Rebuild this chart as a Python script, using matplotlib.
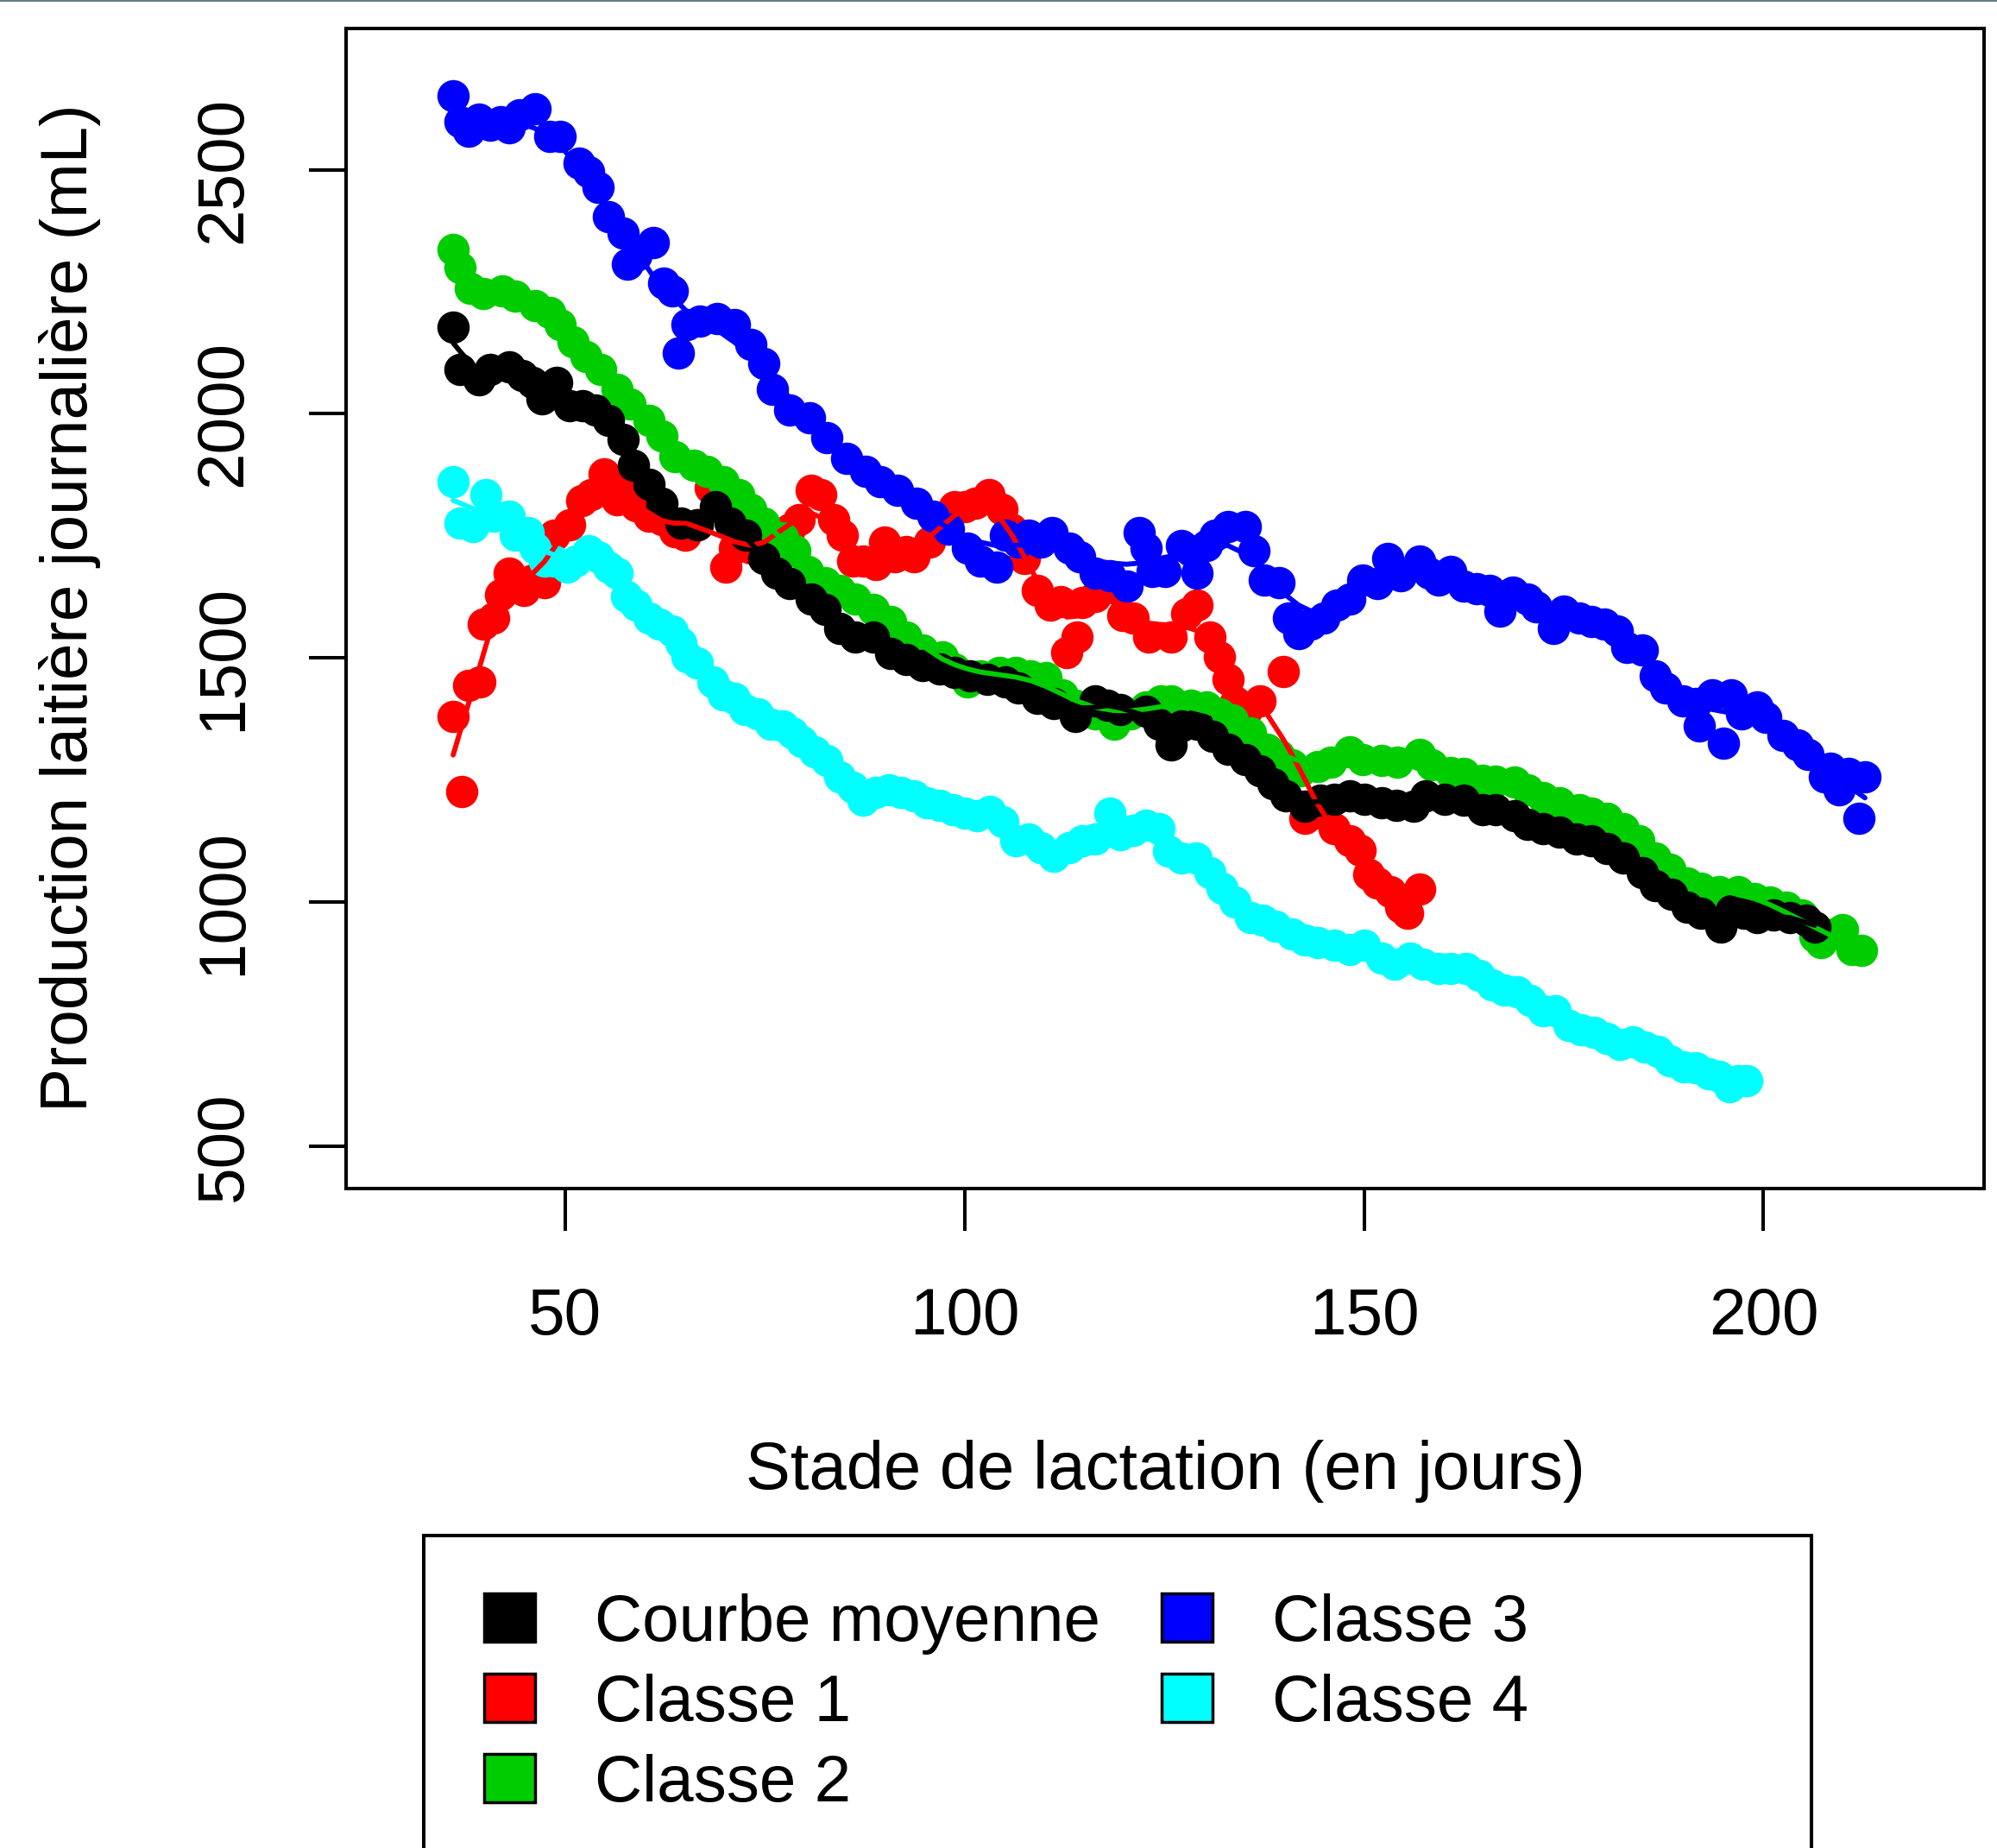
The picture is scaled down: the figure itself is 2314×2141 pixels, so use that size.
import numpy as np
import matplotlib
matplotlib.use("Agg")
import matplotlib.pyplot as plt
from matplotlib.patches import Rectangle
from matplotlib.lines import Line2D

plt.rcParams['font.family'] = ['Liberation Sans', 'DejaVu Sans']

# jours / production (mL)
moy_x = [36.0, 36.9, 39.2, 40.6, 43.0, 44.6, 45.9, 47.1, 49.0, 50.6, 52.2, 53.8, 55.4, 57.3, 58.6,
         60.5, 62.1, 64.5, 66.6, 68.8, 70.7, 72.6, 74.9, 76.5, 78.1, 80.8, 82.5, 84.4, 86.3, 88.6,
         90.8, 92.7, 94.8, 96.9, 98.8, 100.7, 102.8, 105.1, 106.7, 109.1, 111.2, 113.9, 116.3, 117.9,
         119.5, 122.7, 124.3, 125.9, 127.1, 129.1, 131.0, 133.0, 135.1, 137.0, 138.6, 140.2, 142.6,
         144.5, 146.3, 148.2, 150.1, 152.2, 154.1, 156.2, 157.7, 160.1, 162.5, 164.9, 166.5, 168.9,
         170.5, 172.4, 174.5, 176.6, 178.5, 180.4, 182.5, 184.8, 186.4, 188.5, 190.4, 192.2, 194.7,
         196.0, 197.6, 199.2, 201.3, 203.3, 205.4, 206.4]
moy_y = [2177, 2091, 2070, 2091, 2096, 2078, 2064, 2031, 2064, 2017, 2017, 2007, 1986, 1947, 1895,
         1856, 1817, 1777, 1772, 1809, 1777, 1751, 1704, 1673, 1652, 1621, 1600, 1561, 1543, 1543,
         1509, 1496, 1485, 1477, 1470, 1464, 1457, 1451, 1438, 1417, 1407, 1381, 1412, 1404,
         1394, 1391, 1365, 1321, 1360, 1365, 1339, 1313, 1292, 1269, 1243, 1217, 1196,
         1209, 1211, 1217, 1211, 1203, 1198, 1196, 1217, 1211, 1209, 1190, 1190, 1177,
         1159, 1151, 1143, 1130, 1125, 1110, 1091, 1060, 1034, 1016, 990, 977, 948,
         982, 977, 969, 974, 969, 963, 948]

c1_x = [36.0, 37.1, 37.9, 39.3, 39.8, 41.1, 41.9, 43.0, 44.9, 45.9, 47.4, 48.6, 50.6, 52.1, 53.3,
        54.9, 56.5, 57.7, 58.9, 60.5, 62.1, 63.7, 65.0, 66.6, 68.2, 70.1, 71.2, 73.3, 74.9, 78.1,
        79.3, 80.8, 82.0, 83.6, 84.7, 86.0, 87.3, 88.9, 90.0, 91.3, 92.7, 93.7, 95.6, 96.9, 98.8,
        100.0, 101.3, 103.1, 104.7, 105.9, 107.5, 109.1, 110.7, 112.0, 112.8, 114.1, 114.7, 116.3,
        117.9, 119.2, 119.8, 121.1, 123.0, 125.9, 127.8, 129.1, 130.7, 131.9, 133.0, 133.8, 135.4,
        137.0, 139.9, 141.0, 142.6, 143.9, 146.3, 148.2, 149.5, 150.6, 151.7, 153.3, 154.6, 155.4,
        157.0]
c1_y = [1381, 1227, 1443, 1451, 1569, 1582, 1629, 1673, 1639, 1660, 1655, 1751, 1772, 1822, 1835,
        1877, 1824, 1848, 1811, 1790, 1783, 1759, 1751, 1772, 1848, 1686, 1725, 1725, 1717, 1764,
        1783, 1843, 1835, 1783, 1751, 1699, 1699, 1691, 1738, 1707, 1717, 1707, 1738, 1770, 1809,
        1809, 1817, 1835, 1804, 1764, 1704, 1639, 1608, 1616, 1511, 1543, 1613, 1626,
        1652, 1644, 1587, 1582, 1543, 1543, 1590, 1608, 1543, 1503, 1457, 1407, 1394,
        1412, 1472, 1277, 1172, 1183, 1151, 1125, 1107, 1057, 1039, 1021, 990, 977,
        1026]

c2_x = [36.0, 36.9, 38.2, 39.8, 42.2, 43.8, 46.2, 48.1, 49.4, 51.0, 52.6, 54.5, 56.5, 58.1, 60.5,
        62.1, 63.7, 66.1, 67.7, 69.8, 71.7, 73.3, 74.9, 77.3, 78.8, 80.4, 82.5, 84.4, 86.3, 88.6,
        90.8, 92.7, 94.8, 97.2, 98.8, 100.4, 102.0, 104.4, 106.4, 108.3, 110.2, 112.3, 113.9, 116.3,
        118.7, 120.8, 122.7, 124.6, 125.9, 128.3, 130.3, 131.9, 133.5, 135.8, 137.8, 139.4, 141.0,
        142.1, 144.2, 145.8, 148.2, 149.8, 152.2, 154.2, 157.0, 158.5, 160.9, 162.5, 164.9, 166.5,
        168.9, 170.5, 172.4, 174.5, 176.9, 178.5, 180.4, 182.5, 184.4, 186.4, 188.3, 190.4, 192.2,
        194.4, 196.8, 198.9, 200.8, 202.9, 204.8, 206.4, 207.2, 208.8, 209.9, 211.1, 212.3]
c2_y = [2336, 2299, 2257, 2247, 2252, 2242, 2221, 2208, 2182, 2148, 2117, 2091, 2051, 2020, 1986,
        1955, 1913, 1895, 1882, 1861, 1835, 1804, 1777, 1746, 1720, 1678, 1655, 1639, 1621, 1600,
        1574, 1543, 1517, 1503, 1477, 1451, 1464, 1470, 1470, 1464, 1459, 1425, 1404, 1386,
        1365, 1386, 1399, 1412, 1412, 1404, 1399, 1386, 1373, 1347, 1313, 1300, 1282,
        1269, 1277, 1287, 1308, 1292, 1290, 1287, 1303, 1282, 1266, 1264, 1250, 1248,
        1245, 1230, 1214, 1203, 1190, 1183, 1172, 1151, 1125, 1091, 1068, 1039, 1029,
        1021, 1021, 1008, 1000, 990, 974, 930, 917, 935, 943, 903, 901]

c3_x = [36.0, 36.9, 37.9, 39.2, 40.6, 41.9, 43.0, 44.3, 46.2, 48.1, 49.4, 51.8, 52.9, 54.1, 55.4,
        57.3, 57.8, 58.9, 61.0, 62.4, 63.4, 64.2, 65.3, 66.9, 69.0, 71.2, 73.3, 74.9, 76.0, 78.1,
        80.6, 82.8, 85.2, 87.6, 89.5, 91.6, 94.0, 96.1, 98.0, 100.4, 102.0, 104.0, 105.1, 106.7,
        108.0, 109.6, 111.0, 113.1, 114.4, 116.3, 118.2, 120.3, 121.9, 122.7, 123.5, 125.1, 127.1,
        128.3, 129.1, 130.3, 131.4, 133.0, 135.1, 136.2, 137.5, 139.4, 140.5, 141.8, 143.4, 145.0,
        146.6, 148.2, 149.8, 151.7, 153.0, 154.6, 157.0, 158.1, 159.3, 160.9, 162.5, 164.1, 165.7,
        167.0, 168.6, 170.5, 171.6, 173.7, 175.0, 176.9, 178.5, 180.1, 181.7, 182.9, 184.8, 186.4,
        187.7, 189.9, 191.5, 192.0, 193.6, 195.0, 196.0, 197.3, 199.2, 200.3, 202.4, 204.3, 205.6,
        207.6, 208.4, 209.5, 210.7, 211.9, 212.7]
c3_y = [2651, 2599, 2578, 2604, 2591, 2599, 2586, 2612, 2625, 2568, 2568, 2513, 2495, 2464, 2404,
        2370, 2307, 2325, 2351, 2268, 2252, 2124, 2182, 2190, 2195, 2182, 2143, 2104, 2051, 2007,
        1991, 1952, 1908, 1882, 1861, 1843, 1817, 1790, 1764, 1725, 1699, 1686, 1751, 1738,
        1751, 1738, 1757, 1725, 1707, 1673, 1668, 1647, 1757, 1725, 1678, 1678, 1730,
        1720, 1673, 1730, 1751, 1770, 1770, 1720, 1660, 1655, 1582, 1550, 1569, 1582,
        1608, 1621, 1660, 1652, 1704, 1668, 1699, 1673, 1660, 1678, 1647, 1642, 1639,
        1595, 1634, 1621, 1605, 1561, 1595, 1582, 1574, 1569, 1556, 1522, 1517, 1464,
        1438, 1412, 1407, 1360, 1425, 1326, 1425, 1386, 1399, 1378, 1342, 1321, 1303,
        1256, 1274, 1230, 1264, 1172, 1256]

c4_x = [36.0, 36.9, 38.5, 40.1, 41.1, 43.0, 43.8, 45.4, 46.2, 47.4, 48.6, 50.2, 51.3, 52.9, 54.1,
        55.4, 56.5, 57.7, 58.9, 60.5, 61.8, 63.4, 64.5, 65.3, 66.6, 68.5, 69.8, 71.2, 72.5, 74.1,
        75.7, 77.3, 78.4, 79.6, 81.2, 82.8, 84.4, 86.0, 87.3, 88.9, 90.5, 92.1, 93.7, 95.3, 96.9,
        98.5, 100.0, 101.6, 103.2, 104.8, 106.4, 108.0, 109.6, 111.2, 113.1, 114.7, 116.3, 118.2,
        119.5, 121.1, 122.7, 124.3, 125.5, 127.1, 129.0, 130.7, 132.2, 133.8, 135.8, 137.3, 138.9,
        141.0, 142.6, 144.2, 146.3, 148.2, 150.1, 152.2, 153.8, 155.8, 157.4, 159.3, 160.9, 162.8,
        164.4, 166.0, 167.6, 169.2, 170.8, 172.4, 173.9, 175.6, 177.2, 178.8, 180.4, 182.0, 183.6,
        185.2, 186.8, 188.3, 190.0, 191.5, 193.1, 194.4, 195.7, 196.8, 197.9]
c4_y = [1861, 1777, 1770, 1835, 1790, 1790, 1751, 1757, 1725, 1699, 1699, 1686, 1699, 1720, 1707,
        1686, 1673, 1626, 1608, 1582, 1569, 1556, 1530, 1503, 1490, 1451, 1425, 1417, 1394, 1386,
        1365, 1360, 1347, 1329, 1308, 1290, 1256, 1235, 1209, 1224, 1230, 1224, 1217, 1204, 1198,
        1190, 1183, 1177, 1185, 1164, 1125, 1130, 1112, 1094, 1112, 1125, 1130, 1183,
        1138, 1146, 1157, 1151, 1104, 1091, 1091, 1060, 1029, 1000, 969, 963, 950,
        935, 922, 917, 911, 903, 911, 885, 872, 885, 872, 864, 864, 864,
        849, 830, 820, 817, 799, 778, 778, 747, 739, 734, 721, 708, 713,
        703, 695, 674, 663, 661, 648, 643, 622, 635, 635]

labels = ['Courbe moyenne', 'Classe 1', 'Classe 2', 'Classe 3', 'Classe 4']
colors = ['black', '#FF0000', '#00CD00', '#0000FF', '#00FFFF']


def lowess(x, y, frac=0.12):
    # lissage local linéaire (poids tricube), comme lowess() de R
    x = np.asarray(x, float)
    y = np.asarray(y, float)
    n = len(x)
    k = max(int(np.ceil(frac * n)), 3)
    out = np.empty(n)
    for i in range(n):
        d = np.abs(x - x[i])
        h = np.sort(d)[k - 1] * 1.0001
        w = np.clip(1 - (d / h) ** 3, 0, None) ** 3
        W = np.sum(w)
        xm = np.sum(w * x) / W
        ym = np.sum(w * y) / W
        b = np.sum(w * (x - xm) * (y - ym)) / max(np.sum(w * (x - xm) ** 2), 1e-9)
        out[i] = ym + b * (x[i] - xm)
    return out


fig = plt.figure(figsize=(23.14, 21.41), dpi=100)
ax = fig.add_axes([0.1733, 0.3568, 0.8202, 0.6280])

series = [(moy_x, moy_y), (c1_x, c1_y), (c2_x, c2_y), (c3_x, c3_y), (c4_x, c4_y)]
fracs = [0.05, 0.1, 0.1, 0.1, 0.1]
order = [1, 2, 3, 4, 0]
for i in order:
    sx, sy = series[i]
    ax.plot(sx, sy, 'o', color=colors[i], markersize=27, markeredgewidth=0, zorder=2)
for i in order:
    sx, sy = series[i]
    ax.plot(sx, lowess(sx, sy, fracs[i]), '-', color=colors[i], lw=4.2, zorder=3,
            solid_capstyle='round')

ax.set_xlim(22.6, 227.6)
ax.set_ylim(413, 2790)
ax.set_xticks([50, 100, 150, 200])
ax.set_yticks([500, 1000, 1500, 2000, 2500])
for s in ax.spines.values():
    s.set_linewidth(2.9)
ax.tick_params(axis='x', length=35, width=2.9, pad=47, labelsize=55)
ax.tick_params(axis='y', length=31, width=2.9, pad=45, labelsize=55)
plt.setp(ax.get_yticklabels(), rotation=90, va='center')

fig.text(81 / 2314, 0.6712, 'Production laitière journalière (mL)', rotation=90,
         ha='center', va='center', fontsize=55)
fig.text(0.5834, 0.2041, 'Stade de lactation (en jours)', ha='center', va='center', fontsize=56)

# légende (cadre coupé par le bas de l'image)
fig.patches.append(Rectangle((491 / 2314, -0.05), (2099 - 491) / 2314, 0.05 + 0.1691,
                             transform=fig.transFigure, fill=False, lw=2.9, ec='black'))
rows = [0.1247, 0.0813, 0.0378]
pos = [(0, 0), (0, 1), (0, 2), (1, 0), (1, 1)]
sq_x = [561 / 2314, 1346 / 2314]
tx_x = [689 / 2314, 1474 / 2314]
sw, sh = 59 / 2314, 56 / 2141
for (col, row), lab, c in zip(pos, labels, colors):
    yc = rows[row]
    fig.patches.append(Rectangle((sq_x[col], yc - sh / 2), sw, sh, transform=fig.transFigure,
                                 fc=c, ec='black', lw=2.5))
    fig.text(tx_x[col], yc - 27 / 2141, lab, ha='left', va='baseline', fontsize=55)

fig.add_artist(Line2D([0, 1], [0.9993, 0.9993], transform=fig.transFigure,
                      color='#62808c', lw=1.5))

fig.savefig('out.png', dpi=100)
